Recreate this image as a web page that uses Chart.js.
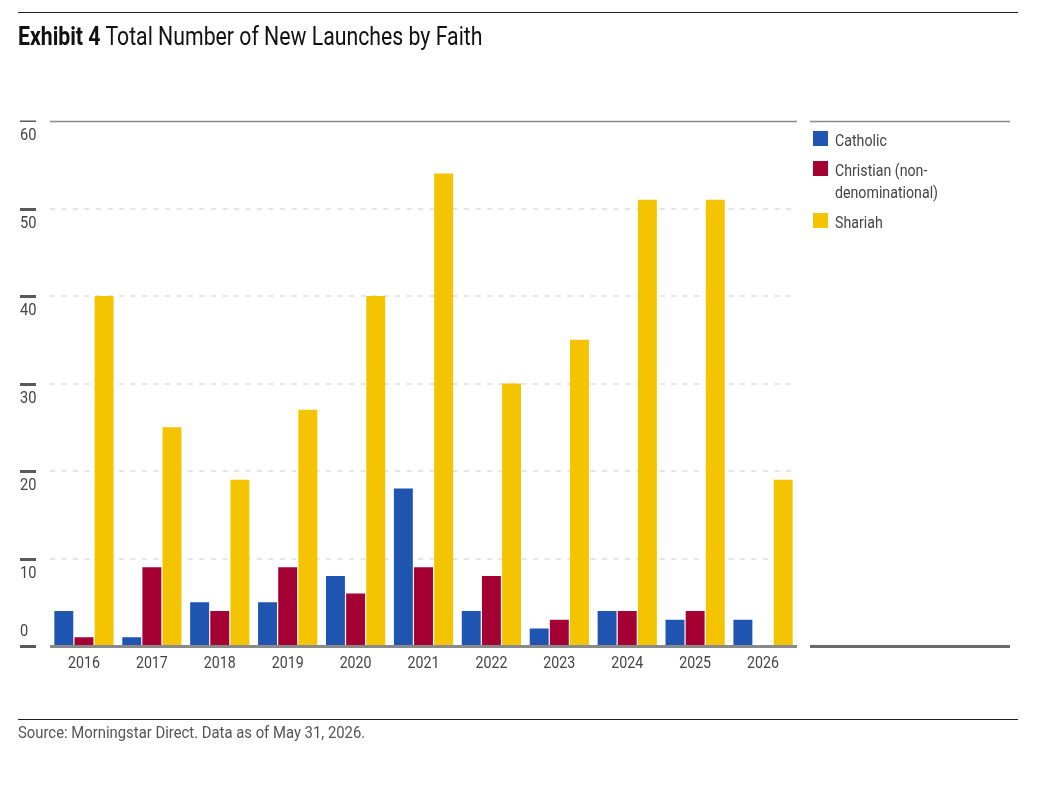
<!DOCTYPE html>
<html>
<head>
<meta charset="utf-8">
<script src="https://cdn.jsdelivr.net/npm/chart.js@4.4.1/dist/chart.umd.min.js"></script>
<style>
  html, body { margin: 0; padding: 0; background: #fff; }
  body { width: 1058px; height: 789px; position: relative; overflow: hidden;
         font-family: "Liberation Sans Narrow", "Roboto", "DejaVu Sans", sans-serif; }
  #wrap { position: absolute; left: 0; top: 0; width: 1058px; height: 789px; }
  .rule { position: absolute; left: 18px; width: 1000px; height: 1px; background: #222; }
  #title { position: absolute; left: 18px; top: 22px; font-size: 25px; color: #111; white-space: nowrap;
           transform: scaleX(0.85); transform-origin: 0 0; }
  #title b { font-weight: bold; }
  #source { position: absolute; left: 18px; top: 723px; font-size: 16.5px; color: #555; white-space: nowrap;
            transform: scaleX(0.9); transform-origin: 0 0; }
  #legend { position: absolute; left: 813px; top: 130px; width: 240px; }
  .li { position: relative; padding-left: 22px; font-size: 16.5px; color: #444; line-height: 22px; margin-bottom: 8px; }
  .li span.t { display: inline-block; transform: scaleX(0.86); transform-origin: 0 0; white-space: nowrap; }
  .sw { position: absolute; left: 0; top: 1px; width: 15px; height: 15px; }
</style>
</head>
<body>
<div id="wrap"><canvas id="c"></canvas></div>
<div class="rule" style="top:12px"></div>
<div id="title"><b>Exhibit 4</b> Total Number of New Launches by Faith</div>
<div id="legend"></div>
<div class="rule" style="top:719px"></div>
<div id="source">Source: Morningstar Direct. Data as of May 31, 2026.</div>
<script>
const years = ["2016","2017","2018","2019","2020","2021","2022","2023","2024","2025","2026"];
const catholic  = [4, 1, 5, 5, 8, 18, 4, 2, 4, 3, 3];
const christian = [1, 9, 4, 9, 6, 9, 8, 3, 4, 4, 0];
const shariah   = [40, 25, 19, 27, 40, 54, 30, 35, 51, 51, 19];
const seriesNames = ["Catholic", "Christian (non-\ndenominational)", "Shariah"];
const seriesColors = ["#1f55b0", "#a50034", "#f5c400"];
const yTicks = [0, 10, 20, 30, 40, 50, 60];

const FONT = '"Liberation Sans Narrow", "Roboto", "DejaVu Sans", sans-serif';
const SX = 0.86;

// HTML legend
const lg = document.getElementById('legend');
seriesNames.forEach((n, i) => {
  const d = document.createElement('div');
  d.className = 'li';
  d.innerHTML = '<span class="sw" style="background:' + seriesColors[i] + '"></span>' +
    '<span class="t">' + n.split('\n').join('<br>') + '</span>';
  lg.appendChild(d);
});

function condensedText(ctx, t, x, y, align) {
  ctx.save();
  ctx.translate(x, y);
  ctx.scale(SX, 1);
  ctx.textAlign = align;
  ctx.fillText(t, 0, 0);
  ctx.restore();
}

const decor = {
  id: 'decor',
  beforeDatasetsDraw(chart) {
    const ctx = chart.ctx, y = chart.scales.y, a = chart.chartArea;
    ctx.save();
    // dashed grid
    yTicks.forEach(v => {
      const py = Math.round(y.getPixelForValue(v));
      if (v > 0 && v < 60) {
        ctx.strokeStyle = '#e6e6e6';
        ctx.lineWidth = 2;
        ctx.setLineDash([5, 6.5]);
        ctx.beginPath(); ctx.moveTo(a.left, py); ctx.lineTo(a.right, py); ctx.stroke();
      }
    });
    ctx.setLineDash([]);
    // top line
    const pTop = Math.round(y.getPixelForValue(60)) + 0.5;
    ctx.strokeStyle = '#8a8a8a'; ctx.lineWidth = 1.5;
    ctx.beginPath(); ctx.moveTo(a.left, pTop); ctx.lineTo(a.right, pTop); ctx.stroke();
    ctx.beginPath(); ctx.moveTo(810, pTop); ctx.lineTo(1010, pTop); ctx.stroke();
    // left tick marks + labels
    ctx.font = '17px ' + FONT;
    ctx.textBaseline = 'middle';
    yTicks.forEach(v => {
      const py = Math.round(y.getPixelForValue(v));
      ctx.fillStyle = '#5a5a5a';
      if (v === 60) ctx.fillRect(20, py - 0.5, 16, 1.5);
      else ctx.fillRect(20, py - 1, 16, 3);
      ctx.fillStyle = '#444';
      condensedText(ctx, String(v), 20, v === 0 ? py - 14 : py + 15, 'left');
    });
    // x labels
    ctx.font = '16.5px ' + FONT;
    const x = chart.scales.x;
    years.forEach((t, i) => {
      condensedText(ctx, t, x.getPixelForValue(i), y.getPixelForValue(0) + 18, 'center');
    });
    ctx.restore();
  },
  afterDatasetsDraw(chart) {
    const ctx = chart.ctx, y = chart.scales.y, a = chart.chartArea;
    const p0 = Math.round(y.getPixelForValue(0));
    ctx.save();
    ctx.fillStyle = '#8a8a8a';
    ctx.fillRect(a.left, p0 - 1, a.right - a.left, 3);
    ctx.fillStyle = '#6a6a6a';
    ctx.fillRect(810, p0 - 1, 200, 3);
    ctx.restore();
  }
};

new Chart(document.getElementById('c'), {
  type: 'bar',
  data: {
    labels: years,
    datasets: [
      { label: seriesNames[0], data: catholic,  backgroundColor: seriesColors[0] },
      { label: seriesNames[1], data: christian, backgroundColor: seriesColors[1] },
      { label: seriesNames[2], data: shariah,   backgroundColor: seriesColors[2] }
    ]
  },
  options: {
    responsive: true,
    maintainAspectRatio: false,
    animation: false,
    layout: { padding: { left: 50, right: 261, top: 121, bottom: 143 } },
    datasets: { bar: { categoryPercentage: 0.89, barPercentage: 0.94 } },
    scales: {
      x: { display: false },
      y: { display: false, min: 0, max: 60 }
    },
    plugins: { legend: { display: false }, tooltip: { enabled: false } }
  },
  plugins: [decor]
});
</script>
</body>
</html>
